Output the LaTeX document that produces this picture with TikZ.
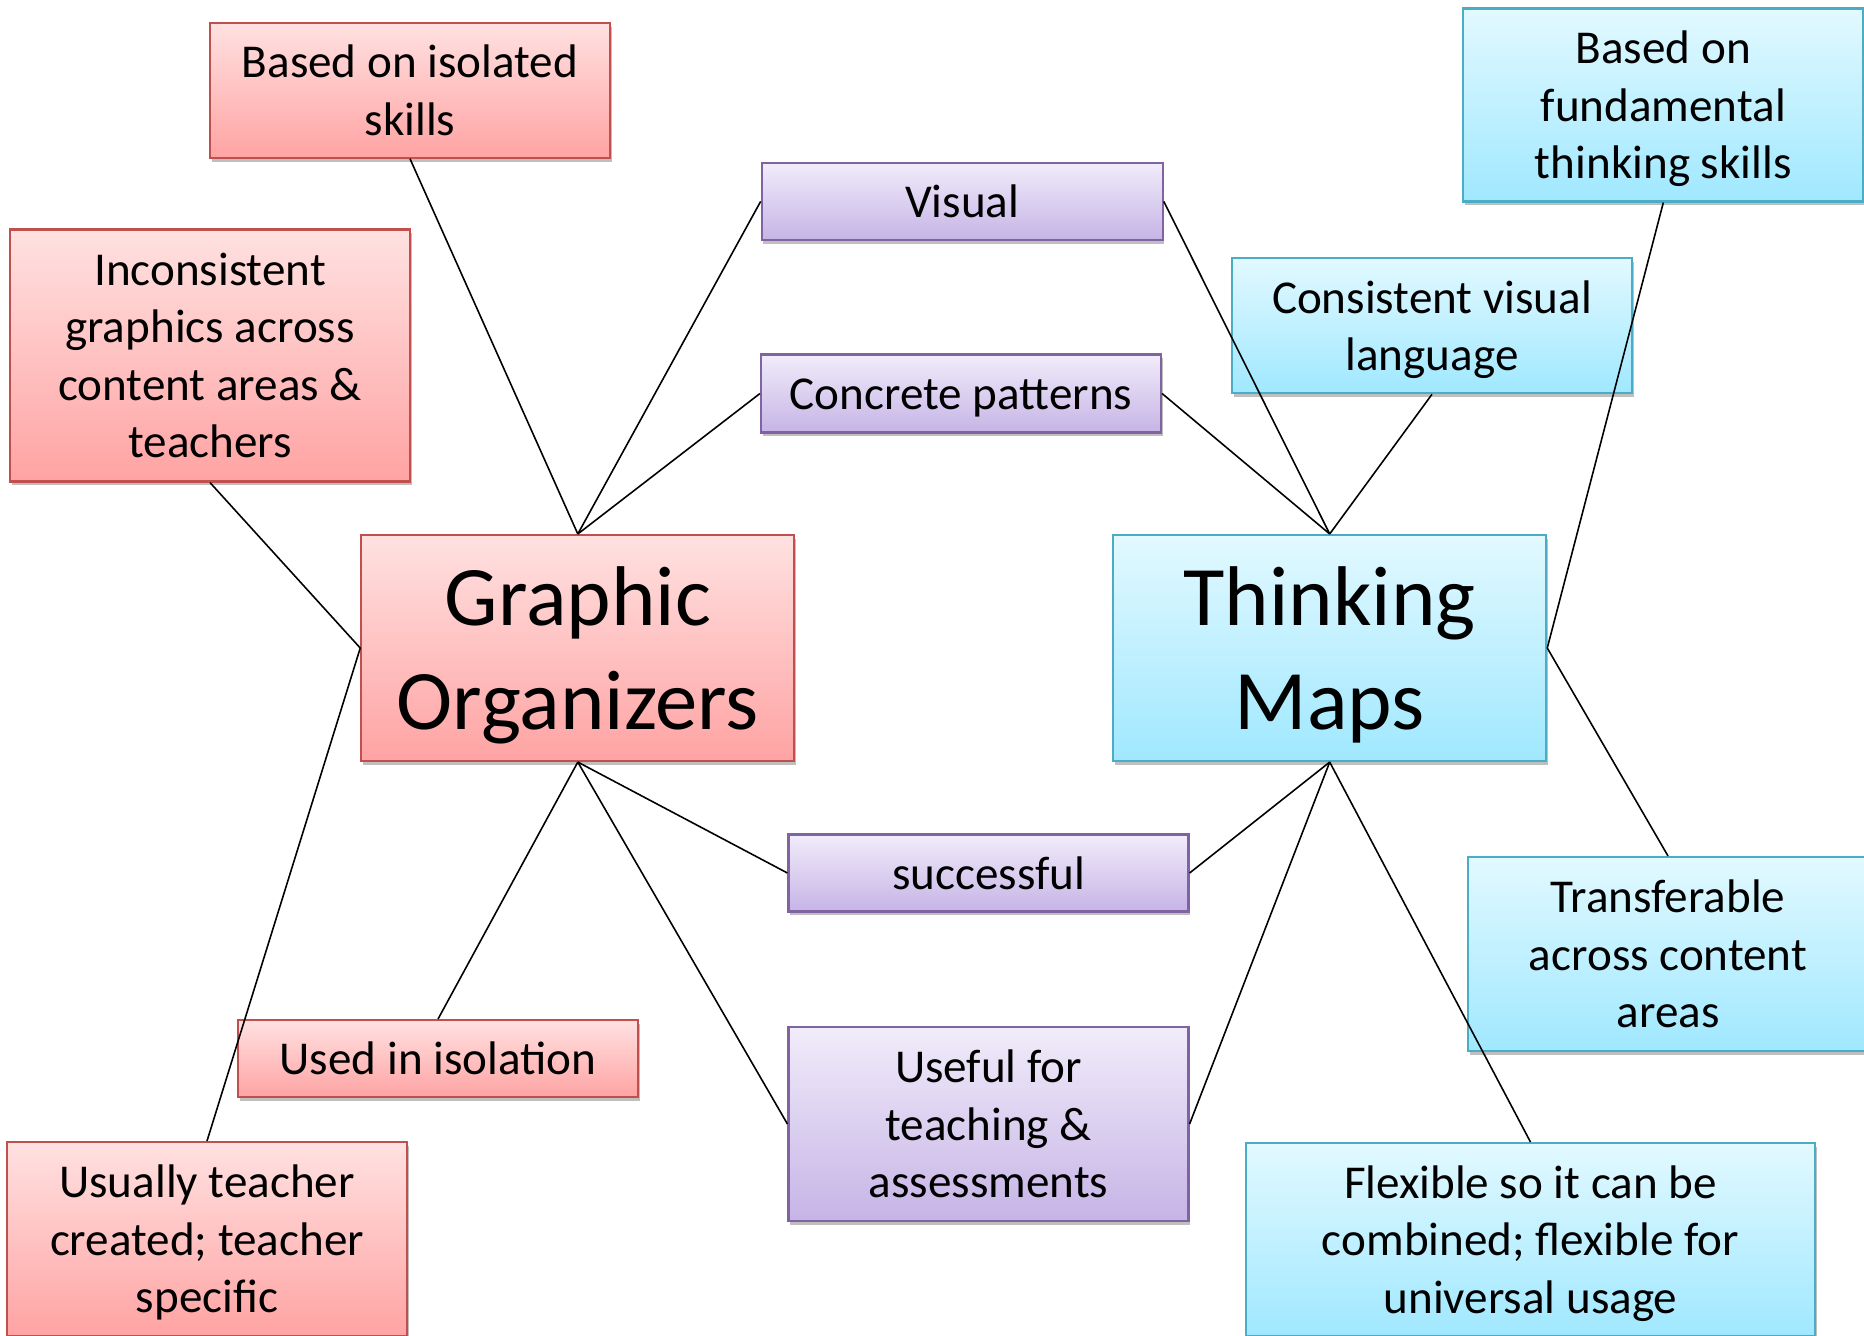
\documentclass[tikz,border=0pt]{standalone}
\usepackage{fontspec}
\setmainfont{Carlito}
\usetikzlibrary{shadows}
\definecolor{redtop}{RGB}{255,225,225}
\definecolor{redbot}{RGB}{255,163,163}
\definecolor{redline}{RGB}{192,80,77}
\definecolor{purtop}{RGB}{241,236,250}
\definecolor{purbot}{RGB}{198,180,230}
\definecolor{purline}{RGB}{128,100,162}
\definecolor{cyatop}{RGB}{226,249,255}
\definecolor{cyabot}{RGB}{160,232,255}
\definecolor{cyaline}{RGB}{75,172,198}
\tikzset{
  box/.style={rectangle, inner sep=0pt, line width=0.6pt,
    drop shadow={shadow xshift=0.5pt, shadow yshift=-1.1pt, opacity=0.25, fill=black}},
  txt/.style={inner sep=0pt, align=center,
    font=\fontsize{13.4pt}{16.35pt}\selectfont,
    execute at begin node={\rule{0pt}{\dimexpr0.7\baselineskip+0.2em\relax}},
    execute at end node={\rule[-0.3\baselineskip]{0pt}{0.3\baselineskip}}},
  bigtxt/.style={txt, font=\fontsize{24.1pt}{29.4pt}\selectfont},
  ml/.style={yshift=-2.4pt},
  mlbig/.style={yshift=-4.4pt},
  redbox/.style={box, draw=redline, top color=redtop, bottom color=redbot},
  purbox/.style={box, draw=purline, top color=purtop, bottom color=purbot},
  cyabox/.style={box, draw=cyaline, top color=cyatop, bottom color=cyabot},
  sz/.style 2 args={minimum width=#1*0.01cm, minimum height=#2*0.01cm},
  link/.style={draw=black, line width=0.45pt}
}
% #1 box style, #2 w, #3 h, #4 name, #5 centre, #6 text style, #7 text
\newcommand{\mkbox}[7]{%
  \node[#1, sz={#2}{#3}] (#4) at (#5) {};
  \node[#6] (#4-t) at (#4.center) {#7};}
\begin{document}
\begin{tikzpicture}[x=0.01cm, y=-0.01cm]
\useasboundingbox (0,0) rectangle (1864,1335);
\clip (0,0) rectangle (1864,1335);
% red
\mkbox{redbox}{400}{135}{iso}{410,90.2}{txt,ml}{Based on isolated\\skills}
\mkbox{redbox}{400}{252}{inc}{210,355.5}{txt,ml}{Inconsistent\\graphics across\\content areas \&\\teachers}
\mkbox{redbox}{433}{226}{go}{577.8,648}{bigtxt,mlbig}{Graphic\\Organizers}
\mkbox{redbox}{400}{77}{used}{438,1058.6}{txt}{Used in isolation}
\mkbox{redbox}{400}{194}{usu}{207,1239}{txt,ml}{Usually teacher\\created; teacher\\specific}
% purple
\mkbox{purbox}{401}{77}{vis}{962.2,201.4}{txt}{Visual}
\mkbox{purbox}{400}{78}{con}{961,393.5}{txt}{Concrete patterns}
\mkbox{purbox}{400}{77}{suc}{988.5,873}{txt}{successful}
\mkbox{purbox}{400}{194}{use}{988.5,1124}{txt,ml}{Useful for\\teaching \&\\assessments}
% cyan
\mkbox{cyabox}{400}{193}{fun}{1663.3,105}{txt,ml}{Based on\\fundamental\\thinking skills}
\mkbox{cyabox}{400}{135}{cvl}{1432,325.7}{txt,ml}{Consistent visual\\language}
\mkbox{cyabox}{433}{226}{tm}{1329.7,648}{bigtxt,mlbig}{Thinking\\Maps}
\mkbox{cyabox}{400}{194}{tra}{1668,954}{txt,ml}{Transferable\\across content\\areas}
\mkbox{cyabox}{569}{193}{fle}{1530.5,1239.6}{txt,ml}{Flexible so it can be\\combined; flexible for\\universal usage}
% connectors
\draw[link] (iso.south) -- (go.north);
\draw[link] (inc.south) -- (go.west);
\draw[link] (vis.west) -- (go.north);
\draw[link] (con.west) -- (go.north);
\draw[link] (vis.east) -- (tm.north);
\draw[link] (con.east) -- (tm.north);
\draw[link] (cvl.south) -- (tm.north);
\draw[link] (fun.south) -- (tm.east);
\draw[link] (tra.north) -- (tm.east);
\draw[link] (tm.south) -- (suc.east);
\draw[link] (tm.south) -- (use.east);
\draw[link] (tm.south) -- (fle.north);
\draw[link] (go.south) -- (suc.west);
\draw[link] (go.south) -- (use.west);
\draw[link] (go.south) -- (used.north);
\draw[link] (go.west) -- (usu.north);
\end{tikzpicture}
\end{document}
